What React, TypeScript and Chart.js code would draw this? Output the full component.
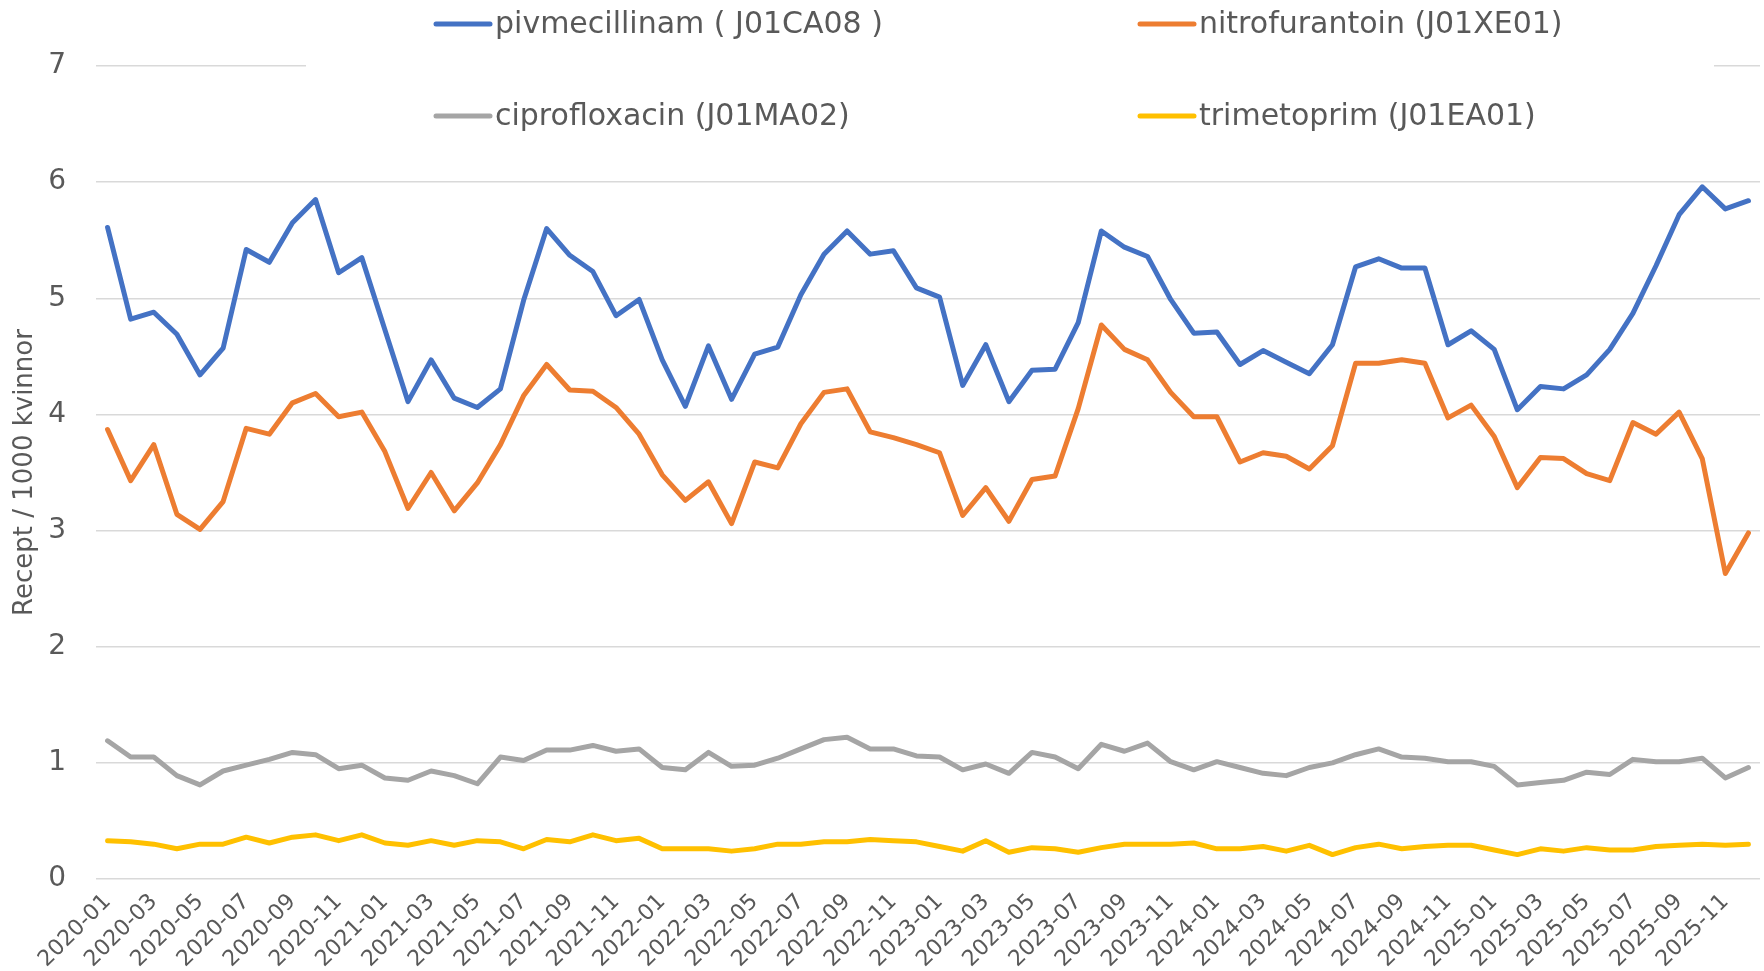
import React, { useEffect, useRef } from "react";
import { Chart, registerables } from "chart.js";

Chart.register(...registerables);

const months: string[] = [
  "2020-01","2020-02","2020-03","2020-04","2020-05","2020-06","2020-07","2020-08","2020-09","2020-10","2020-11","2020-12",
  "2021-01","2021-02","2021-03","2021-04","2021-05","2021-06","2021-07","2021-08","2021-09","2021-10","2021-11","2021-12",
  "2022-01","2022-02","2022-03","2022-04","2022-05","2022-06","2022-07","2022-08","2022-09","2022-10","2022-11","2022-12",
  "2023-01","2023-02","2023-03","2023-04","2023-05","2023-06","2023-07","2023-08","2023-09","2023-10","2023-11","2023-12",
  "2024-01","2024-02","2024-03","2024-04","2024-05","2024-06","2024-07","2024-08","2024-09","2024-10","2024-11","2024-12",
  "2025-01","2025-02","2025-03","2025-04","2025-05","2025-06","2025-07","2025-08","2025-09","2025-10","2025-11","2025-12",
];

const pivmecillinam: number[] = [
  5.61,4.82,4.88,4.69,4.34,4.57,5.42,5.31,5.65,5.85,5.22,5.35,
  4.73,4.11,4.47,4.14,4.06,4.22,4.98,5.60,5.37,5.23,4.85,4.99,
  4.47,4.07,4.59,4.13,4.52,4.58,5.03,5.38,5.58,5.38,5.41,5.09,
  5.01,4.25,4.60,4.11,4.38,4.39,4.79,5.58,5.44,5.36,4.99,4.70,
  4.71,4.43,4.55,4.45,4.35,4.60,5.27,5.34,5.26,5.26,4.60,4.72,
  4.56,4.04,4.24,4.22,4.34,4.56,4.87,5.28,5.72,5.96,5.77,5.84,
];

const nitrofurantoin: number[] = [
  3.87,3.43,3.74,3.14,3.01,3.25,3.88,3.83,4.10,4.18,3.98,4.02,
  3.68,3.19,3.50,3.17,3.41,3.74,4.16,4.43,4.21,4.20,4.06,3.83,
  3.48,3.26,3.42,3.06,3.59,3.54,3.92,4.19,4.22,3.85,3.80,3.74,
  3.67,3.13,3.37,3.08,3.44,3.47,4.05,4.77,4.56,4.47,4.19,3.98,
  3.98,3.59,3.67,3.64,3.53,3.73,4.44,4.44,4.47,4.44,3.97,4.08,
  3.81,3.37,3.63,3.62,3.49,3.43,3.93,3.83,4.02,3.62,2.63,2.98,
];

const ciprofloxacin: number[] = [
  1.19,1.05,1.05,0.89,0.81,0.93,0.98,1.03,1.09,1.07,0.95,0.98,
  0.87,0.85,0.93,0.89,0.82,1.05,1.02,1.11,1.11,1.15,1.10,1.12,
  0.96,0.94,1.09,0.97,0.98,1.04,1.12,1.20,1.22,1.12,1.12,1.06,
  1.05,0.94,0.99,0.91,1.09,1.05,0.95,1.16,1.10,1.17,1.01,0.94,
  1.01,0.96,0.91,0.89,0.96,1.00,1.07,1.12,1.05,1.04,1.01,1.01,
  0.97,0.81,0.83,0.85,0.92,0.90,1.03,1.01,1.01,1.04,0.87,0.96,
];

const trimetoprim: number[] = [
  0.33,0.32,0.30,0.26,0.30,0.30,0.36,0.31,0.36,0.38,0.33,0.38,
  0.31,0.29,0.33,0.29,0.33,0.32,0.26,0.34,0.32,0.38,0.33,0.35,
  0.26,0.26,0.26,0.24,0.26,0.30,0.30,0.32,0.32,0.34,0.33,0.32,
  0.28,0.24,0.33,0.23,0.27,0.26,0.23,0.27,0.30,0.30,0.30,0.31,
  0.26,0.26,0.28,0.24,0.29,0.21,0.27,0.30,0.26,0.28,0.29,0.29,
  0.25,0.21,0.26,0.24,0.27,0.25,0.25,0.28,0.29,0.30,0.29,0.30,
];

const seriesNames = [
  "pivmecillinam ( J01CA08 )",
  "nitrofurantoin (J01XE01)",
  "ciprofloxacin (J01MA02)",
  "trimetoprim (J01EA01)",
];
const seriesColors = ["#4472C4", "#ED7D31", "#A5A5A5", "#FFC000"];
const yTicks = [0, 1, 2, 3, 4, 5, 6, 7];

const FONT = "'DejaVu Sans', sans-serif";
const TEXT = "#595959";

const legendPlugin = {
  id: "excelLegend",
  afterDraw(chart: any) {
    const ctx = chart.ctx as CanvasRenderingContext2D;
    ctx.save();
    ctx.fillStyle = "#ffffff";
    ctx.fillRect(306, 0, 1408, 150);
    const cols = [436, 1140];
    const rows = [24, 116];
    ctx.font = `30px ${FONT}`;
    ctx.textBaseline = "middle";
    ctx.textAlign = "left";
    seriesNames.forEach((name, i) => {
      const x = cols[i % 2];
      const y = rows[Math.floor(i / 2)];
      ctx.strokeStyle = seriesColors[i];
      ctx.lineWidth = 5;
      ctx.lineCap = "round";
      ctx.beginPath();
      ctx.moveTo(x, y);
      ctx.lineTo(x + 54, y);
      ctx.stroke();
      ctx.fillStyle = TEXT;
      ctx.fillText(name, x + 59, y + 1);
    });
    ctx.restore();
  },
};

export default function App() {
  const canvasRef = useRef<HTMLCanvasElement | null>(null);

  useEffect(() => {
    if (!canvasRef.current) return;
    const data = [pivmecillinam, nitrofurantoin, ciprofloxacin, trimetoprim];
    const chart = new Chart(canvasRef.current, {
      type: "line",
      data: {
        labels: months,
        datasets: data.map((d, i) => ({
          label: seriesNames[i],
          data: d,
          borderColor: seriesColors[i],
          backgroundColor: seriesColors[i],
          borderWidth: 5,
          pointRadius: 0,
          tension: 0,
          borderJoinStyle: "round" as const,
          borderCapStyle: "round" as const,
        })),
      },
      options: {
        animation: false,
        responsive: true,
        maintainAspectRatio: false,
        layout: { padding: { top: 66, right: 4, left: 0, bottom: 0 } },
        plugins: {
          legend: { display: false },
          tooltip: { enabled: false },
        },
        scales: {
          x: {
            offset: true,
            grid: { display: false, drawTicks: false },
            border: { display: false },
            ticks: {
              autoSkip: false,
              minRotation: 45,
              maxRotation: 45,
              color: TEXT,
              font: { family: FONT, size: 22 },
              padding: 10,
              callback: (_v: any, i: number) => (i % 2 === 0 ? months[i] : ""),
            },
            afterFit: (s: any) => {
              s.height = 92;
              s.paddingLeft = 0;
              s.paddingRight = 0;
            },
          },
          y: {
            min: yTicks[0],
            max: yTicks[yTicks.length - 1],
            afterBuildTicks: (s: any) => {
              s.ticks = yTicks.map((v) => ({ value: v }));
            },
            grid: { color: "#D9D9D9", lineWidth: 1.5, drawTicks: false },
            border: { display: false },
            ticks: {
              color: TEXT,
              font: { family: FONT, size: 28 },
              padding: 30,
            },
            title: {
              display: true,
              text: "Recept / 1000 kvinnor",
              color: TEXT,
              font: { family: FONT, size: 26 },
              padding: { top: 10, bottom: 0 },
            },
            afterFit: (s: any) => {
              s.width = 96;
            },
          },
        },
      },
      plugins: [legendPlugin],
    });
    return () => chart.destroy();
  }, []);

  return (
    <div style={{ position: "fixed", left: 0, top: 0, width: 1764, height: 971, background: "#fff" }}>
      <canvas ref={canvasRef} />
    </div>
  );
}
